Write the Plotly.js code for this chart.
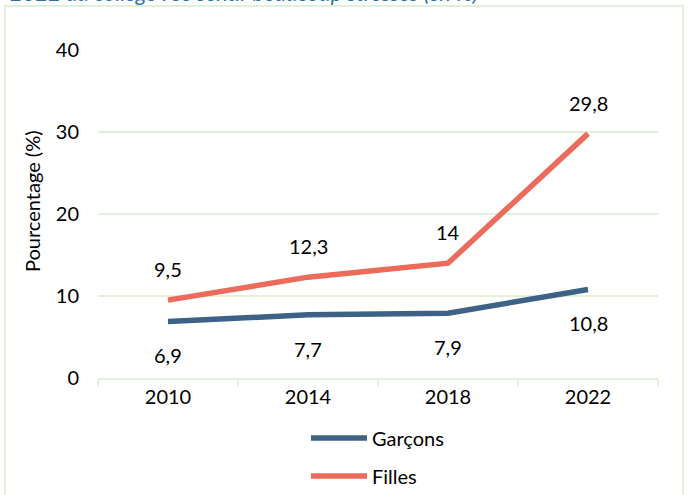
<!DOCTYPE html>
<html>
<head>
<meta charset="utf-8">
<script src="https://cdn.plot.ly/plotly-3.0.1.min.js"></script>
<style>
html,body{margin:0;padding:0;background:#fff;}
#chart{width:688px;height:495px;}
</style>
</head>
<body>
<div id="chart"></div>
<script>
const years = ['2010', '2014', '2018', '2022'];
const garcons = [6.9, 7.7, 7.9, 10.8];
const filles = [9.5, 12.3, 14, 29.8];
const garconsLabels = ['6,9', '7,7', '7,9', '10,8'];
const fillesLabels = ['9,5', '12,3', '14', '29,8'];
const yTicks = [0, 10, 20, 30, 40];

const FONT = 'Lato, "Open Sans", "DejaVu Sans", sans-serif';
const BLUE = '#3d6286';
const RED = '#ec6b5b';
const GRID = '#e2efda';

const traces = [
  {x: years, y: garcons, name: 'Garçons', type: 'scatter', mode: 'lines',
   line: {color: BLUE, width: 5.5}, legend: 'legend'},
  {x: years, y: filles, name: 'Filles', type: 'scatter', mode: 'lines',
   line: {color: RED, width: 5.5}, legend: 'legend2'}
];

const annotations = [];
years.forEach((yr, i) => {
  annotations.push({x: i, y: garcons[i], xref: 'x', yref: 'y', text: garconsLabels[i], showarrow: false,
    yshift: -34, font: {family: FONT, size: 20, color: '#000'}});
  annotations.push({x: i, y: filles[i], xref: 'x', yref: 'y', text: fillesLabels[i], showarrow: false,
    yshift: 31, font: {family: FONT, size: 20, color: '#000'}});
});
annotations.push({text: 'Pourcentage (%)', xref: 'paper', yref: 'paper',
  x: (32-98)/560, y: (378-201)/328, textangle: -90, showarrow: false,
  xanchor: 'center', yanchor: 'middle', font: {family: FONT, size: 20, color: '#000'}});

const layout = {
  width: 688, height: 495,
  margin: {l: 98, r: 30, t: 50, b: 117, autoexpand: false},
  paper_bgcolor: '#fff', plot_bgcolor: '#fff',
  font: {family: FONT, size: 20, color: '#000'},
  title: {text: '2022 au collège : se sentir beaucoup stressés (en %)',
    x: 10/688, xanchor: 'left', xref: 'container', yref: 'container',
    y: 0.998, yanchor: 'bottom',
    font: {family: FONT, size: 22, color: '#2f6fa8', style: 'italic'}},
  xaxis: {type: 'category', tickmode: 'array', tickvals: years, ticktext: years,
    showgrid: false, zeroline: false, showline: true, linecolor: GRID, linewidth: 2,
    ticks: 'outside', tickson: 'boundaries', ticklen: 6, tickcolor: GRID, tickwidth: 2,
    tickfont: {family: FONT, size: 20, color: '#000'}, range: [-0.5, 3.5], automargin: false},
  yaxis: {range: [0, 40], tickvals: yTicks, ticktext: yTicks.map(String),
    showgrid: true, gridcolor: GRID, gridwidth: 2, zeroline: false, showline: false,
    ticks: 'outside', ticklen: 14, tickcolor: 'rgba(0,0,0,0)', automargin: false,
    tickfont: {family: FONT, size: 20, color: '#000'}},
  showlegend: true,
  legend: {x: 306/688, y: 1 - 438/495, xref: 'container', yref: 'container',
    xanchor: 'left', yanchor: 'middle', orientation: 'v', bgcolor: 'rgba(0,0,0,0)',
    font: {family: FONT, size: 20, color: '#000'}, itemwidth: 56},
  legend2: {x: 306/688, y: 1 - 476/495, xref: 'container', yref: 'container',
    xanchor: 'left', yanchor: 'middle', orientation: 'v', bgcolor: 'rgba(0,0,0,0)',
    font: {family: FONT, size: 20, color: '#000'}, itemwidth: 56},
  annotations: annotations,
  shapes: [{type: 'rect', xref: 'paper', yref: 'paper',
    x0: (5-98)/560, x1: (683-98)/560, y0: (378-505)/328, y1: (378-6)/328,
    line: {color: GRID, width: 2}, fillcolor: 'rgba(0,0,0,0)', layer: 'below'}]
};

Plotly.newPlot('chart', traces, layout, {displayModeBar: false, staticPlot: true});
</script>
</body>
</html>
